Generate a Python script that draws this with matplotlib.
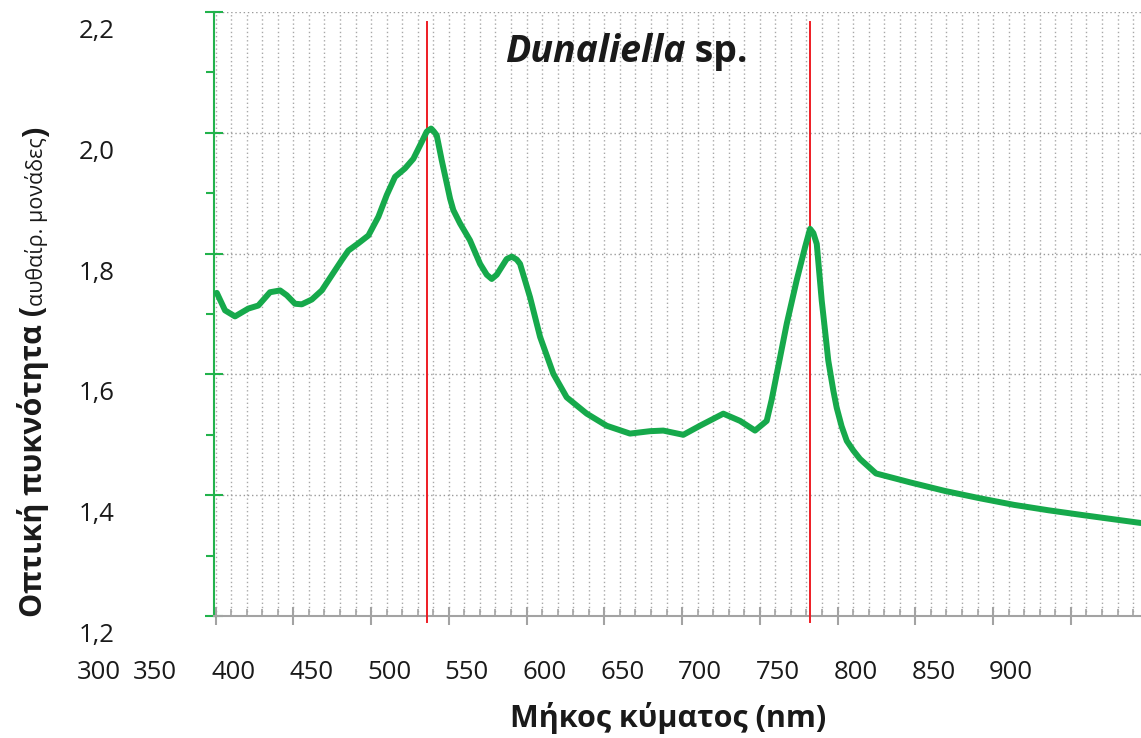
import numpy as np
import matplotlib.pyplot as plt
import matplotlib.transforms as mtransforms

plt.rcParams['font.family'] = ['Open Sans', 'DejaVu Sans']

# absorption spectrum of Dunaliella sp. (wavelength in nm, optical density)
wavelength = [400.8, 406.1, 412.5, 421.1, 427.5, 435.0, 441.5, 445.8, 451.1, 455.4,
              461.9, 468.3, 474.7, 481.1, 485.4, 491.8, 498.3, 504.7, 510.1, 515.4,
              521.8, 527.2, 532.6, 535.8, 538.6, 540.1, 542.2, 543.3, 545.4, 548.7,
              550.8, 552.9, 557.2, 563.6, 570.1, 574.4, 577.6, 580.8, 584.0, 587.2,
              590.5, 593.7, 595.8, 602.2, 608.7, 617.2, 625.8, 638.7, 651.5, 666.5,
              679.4, 687.9, 700.8, 711.5, 726.5, 737.3, 746.9, 754.4, 757.6, 760.9,
              767.3, 773.7, 779.1, 782.3, 784.4, 786.6, 789.8, 791.9, 794.0, 797.2,
              799.4, 802.6, 805.9, 810.1, 814.4, 824.7, 847.0, 869.1, 891.3, 913.4,
              935.7, 957.8, 995.0]
density = [1.735, 1.706, 1.696, 1.709, 1.714, 1.736, 1.739, 1.731, 1.717, 1.716,
           1.724, 1.739, 1.764, 1.789, 1.805, 1.817, 1.830, 1.861, 1.897, 1.927,
           1.941, 1.957, 1.985, 2.002, 2.007, 2.003, 1.996, 1.982, 1.955, 1.916,
           1.891, 1.872, 1.850, 1.822, 1.783, 1.765, 1.758, 1.765, 1.778, 1.791,
           1.795, 1.790, 1.783, 1.728, 1.662, 1.601, 1.562, 1.535, 1.515, 1.502,
           1.506, 1.507, 1.500, 1.515, 1.535, 1.523, 1.507, 1.523, 1.558, 1.601,
           1.684, 1.756, 1.811, 1.841, 1.834, 1.816, 1.722, 1.673, 1.623, 1.574,
           1.545, 1.514, 1.490, 1.474, 1.460, 1.436, 1.421, 1.407, 1.395, 1.384,
           1.375, 1.367, 1.354]

# absorption maxima marked with red lines
peaks = [536, 782]

x_labels = [300, 350, 400, 450, 500, 550, 600, 650, 700, 750, 800, 850, 900]
y_ticks = [1.2, 1.4, 1.6, 1.8, 2.0, 2.2]

green = '#16a94b'
axis_green = '#22b24c'
grey = '#a3a3a3'
ink = '#1a1a1a'

fig = plt.figure(figsize=(11.41, 7.38), dpi=100)
ax = fig.add_axes([214 / 1141, 122 / 738, 927 / 1141, 604 / 738])
ax.set_xlim(399.0, 995.1)
ax.set_ylim(1.2, 2.2)

for s in ['top', 'right']:
    ax.spines[s].set_visible(False)
ax.spines['left'].set_color(axis_green)
ax.spines['left'].set_linewidth(1.5)
ax.spines['bottom'].set_color(grey)
ax.spines['bottom'].set_linewidth(1.5)

# x axis: ticks every 50 nm, minor every 10 nm
ax.set_xticks(np.arange(400, 951, 50))
ax.set_xticks(np.arange(400, 991, 10), minor=True)
ax.tick_params(axis='x', which='major', direction='inout', length=13, width=1.5,
               color=grey, labelbottom=False)
ax.tick_params(axis='x', which='minor', direction='in', length=5, width=1.2, color=grey)

ax.set_yticks(y_ticks)
ax.set_yticks(np.arange(1.3, 2.2, 0.2), minor=True)
ax.set_yticklabels([f'{v:.1f}'.replace('.', ',') for v in y_ticks])
ax.tick_params(axis='y', which='major', direction='inout', length=13.5, width=1.5,
               color=axis_green, pad=65, labelsize=18.5, labelcolor=ink)
ax.tick_params(axis='y', which='minor', direction='out', length=6, width=1.5,
               color=axis_green)
shift = mtransforms.ScaledTranslation(0, -0.165, fig.dpi_scale_trans)
for lbl in ax.get_yticklabels():
    lbl.set_transform(lbl.get_transform() + shift)

ax.grid(True, axis='x', which='both', color='#a8a8a8', linestyle=(0, (1, 2)), lw=1)
ax.grid(True, axis='y', which='major', color='#9a9a9a', linestyle=(0, (1, 2)), lw=1)
ax.set_axisbelow(True)

# wavelength labels under the axis
trans = ax.get_xaxis_transform()
for v in x_labels:
    if v == 300:
        xp = 325
    elif v == 350:
        xp = 361
    else:
        xp = v + 11.6
    ax.text(xp, -0.093, str(v), transform=trans, ha='center', va='center',
            fontsize=18.5, color=ink, clip_on=False)

for p in peaks:
    ax.axvline(p, ymin=-0.01, ymax=0.983, color='#ee1c24', lw=1.4, clip_on=False, zorder=3)

ax.plot(wavelength, density, color=green, lw=4.3, solid_joinstyle='round',
        solid_capstyle='round', zorder=4)

t1 = ax.text(586, 2.134, 'Dunaliella', fontsize=27, fontweight='bold', style='italic',
             ha='left', va='center', color=ink)
ax.annotate(' sp.', xy=(1, 0), xycoords=t1, ha='left', va='bottom',
            fontsize=27, fontweight='bold', color=ink)

fig.text(668 / 1141, 1 - 718 / 738, 'Μήκος κύματος (nm)', ha='center', va='center',
         fontsize=22, fontweight='bold', color=ink)

# y axis title: bold part and smaller unit part
yl = fig.text(33 / 1141, 1 - 617 / 738, 'Οπτική πυκνότητα (', rotation=90,
              ha='center', va='bottom', fontsize=22, fontweight='bold', color=ink)
u = ax.annotate('αυθαίρ. μονάδες', xy=(0.6, 1), xycoords=yl, ha='center', va='bottom',
                rotation=90, fontsize=15.5, color=ink)
ax.annotate(')', xy=(0.5, 1), xycoords=u, ha='center', va='bottom', rotation=90,
            fontsize=22, fontweight='bold', color=ink)

fig.savefig('out.png', dpi=100)
